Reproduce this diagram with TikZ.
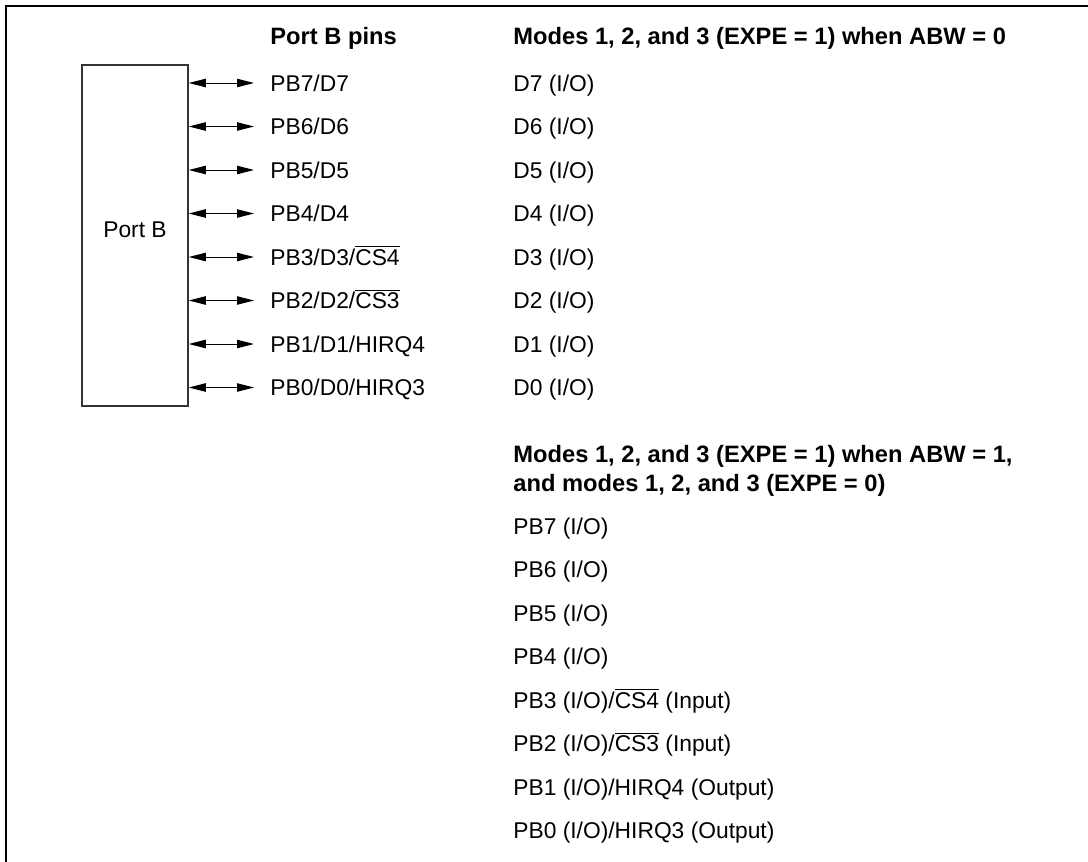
\documentclass[tikz,border=0pt]{standalone}
\usepackage{fontspec}
\setmainfont{Liberation Sans}
\usetikzlibrary{arrows.meta}
\newcommand\ovl[1]{$\overline{\mbox{#1}}$}
\begin{document}
\begin{tikzpicture}[x=0.5pt,y=-0.5pt,
  txt/.style={anchor=west, inner sep=0pt, text height=8.2pt, text depth=0pt, font=\fontsize{11.4}{14}\selectfont},
  hdr/.style={txt, font=\fontsize{11.85}{14}\selectfont\bfseries},
  pbox/.style={draw=black!80, line width=0.75pt, minimum width=53pt, minimum height=170.5pt, inner sep=0pt},
  bidir/.style={{Triangle[length=8.5pt,width=4.2pt]}-{Triangle[length=8.5pt,width=4.2pt]}, line width=0.5pt},
  frame/.style={line width=1pt}]
\useasboundingbox (0,0) rectangle (1088,862);
\draw[frame] (6,862) -- (6,6) -- (1088,6);
% headers
\node[hdr] (hpins) at (270,36) {Port B pins};
\node[hdr] (hmodes) at (513,36) {Modes 1, 2, and 3 (EXPE = 1) when ABW = 0};
% Port B box
\node[pbox] (portb) at (135,235.5) {};
\node[txt, anchor=center] (portblbl) at (135,229) {Port B};
% pins
\node[txt] (p7) at (270,83) {PB7/D7};
\node[txt] (p6) at (270,126.5) {PB6/D6};
\node[txt] (p5) at (270,170) {PB5/D5};
\node[txt] (p4) at (270,213.5) {PB4/D4};
\node[txt] (p3) at (270,257) {PB3/D3/\ovl{CS4}};
\node[txt] (p2) at (270,300.5) {PB2/D2/\ovl{CS3}};
\node[txt] (p1) at (270,344) {PB1/D1/HIRQ4};
\node[txt] (p0) at (270,387.5) {PB0/D0/HIRQ3};
\foreach \n in {7,6,5,4,3,2,1,0}{
  \draw[bidir] (portb.east |- p\n.west) -- ([xshift=-8pt]p\n.west);
}
% first mode column
\node[txt] (d7) at (513,83) {D7 (I/O)};
\node[txt] (d6) at (513,126.5) {D6 (I/O)};
\node[txt] (d5) at (513,170) {D5 (I/O)};
\node[txt] (d4) at (513,213.5) {D4 (I/O)};
\node[txt] (d3) at (513,257) {D3 (I/O)};
\node[txt] (d2) at (513,300.5) {D2 (I/O)};
\node[txt] (d1) at (513,344) {D1 (I/O)};
\node[txt] (d0) at (513,387.5) {D0 (I/O)};
% second header
\node[hdr] (hmodes2a) at (513,454) {Modes 1, 2, and 3 (EXPE = 1) when ABW = 1,};
\node[hdr] (hmodes2b) at (513,483) {and modes 1, 2, and 3 (EXPE = 0)};
% second mode column
\node[txt] (q7) at (513,526) {PB7 (I/O)};
\node[txt] (q6) at (513,569.5) {PB6 (I/O)};
\node[txt] (q5) at (513,613) {PB5 (I/O)};
\node[txt] (q4) at (513,656.5) {PB4 (I/O)};
\node[txt] (q3) at (513,700) {PB3 (I/O)/\ovl{CS4} (Input)};
\node[txt] (q2) at (513,743.5) {PB2 (I/O)/\ovl{CS3} (Input)};
\node[txt] (q1) at (513,787) {PB1 (I/O)/HIRQ4 (Output)};
\node[txt] (q0) at (513,830.5) {PB0 (I/O)/HIRQ3 (Output)};
\end{tikzpicture}
\end{document}
